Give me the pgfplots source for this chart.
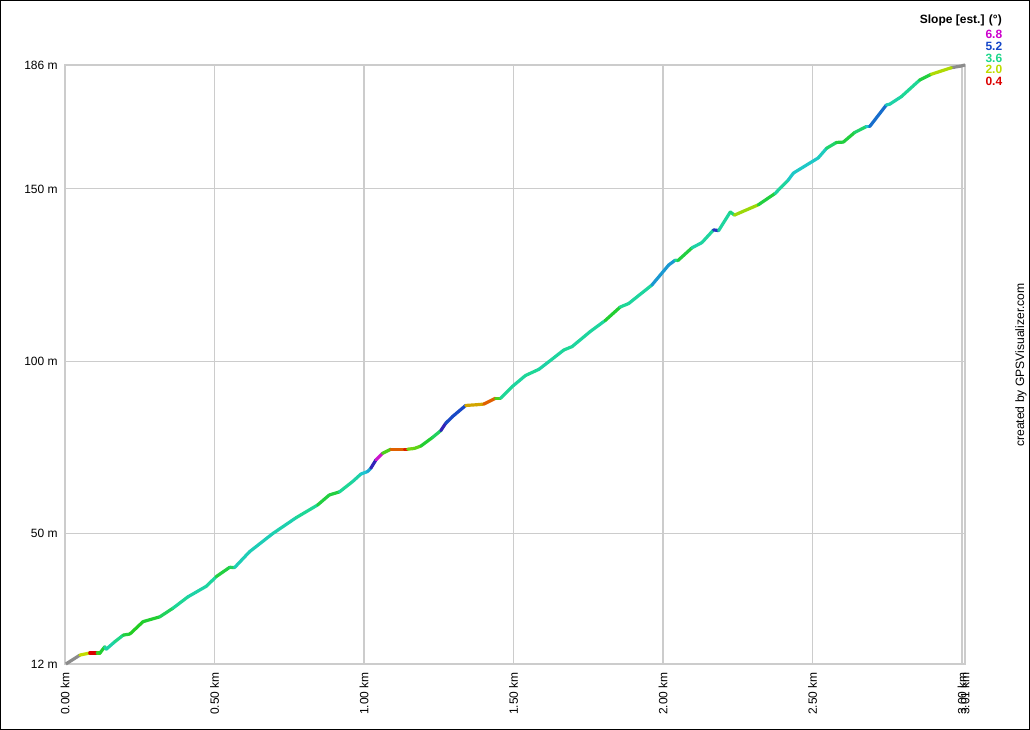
\documentclass[border=0pt]{standalone}
\usepackage{fontspec}
\setmainfont{Liberation Sans}
\usepackage{pgfplots}
\pgfplotsset{compat=1.18}

\definecolor{gridgray}{RGB}{204,204,204}
\definecolor{trackgray}{RGB}{140,140,140}
\definecolor{s68}{RGB}{204,0,204}
\definecolor{s52}{RGB}{20,70,200}
\definecolor{s36}{RGB}{30,215,140}
\definecolor{s20}{RGB}{190,220,0}
\definecolor{s04}{RGB}{220,0,0}

\pgfplotsset{
  colormap={slope}{
    rgb255=(220,0,0) rgb255=(225,110,0) rgb255=(195,220,0)
    rgb255=(35,205,35) rgb255=(30,215,150) rgb255=(30,195,215)
    rgb255=(20,80,200) rgb255=(60,20,180) rgb255=(204,20,204)
  }
}

\begin{document}
\begin{tikzpicture}[x=0.75pt,y=0.75pt]
\path[use as bounding box] (-65,-66) rectangle (965,664);
\draw[line width=1.1pt] (-64.3,-65.3) rectangle (964.3,663.3);

\begin{axis}[
  at={(0,0)}, anchor=south west,
  scale only axis,
  width=675pt, height=449.25pt,
  xmin=0, xmax=3.01,
  ymin=12, ymax=186,
  xtick={0,0.5,1,1.5,2,2.5,3,3.01},
  xticklabels={0.00 km,0.50 km,1.00 km,1.50 km,2.00 km,2.50 km,3.00 km,3.01 km},
  ytick={12,50,100,150,186},
  yticklabels={12 m,50 m,100 m,150 m,186 m},
  xticklabel style={rotate=90, anchor=east, font=\fontsize{9}{10}\selectfont},
  yticklabel style={font=\fontsize{9}{10}\selectfont},
  xticklabel shift=2.5pt,
  yticklabel shift=2pt,
  major tick length=0pt,
  xmajorgrids=true, ymajorgrids=true,
  grid style={gridgray, line width=0.8pt},
  axis line style={gridgray, line width=0.8pt},
  colormap name=slope,
  point meta min=0.4, point meta max=6.8,
  clip=false,
]

% gray start and end pieces (no slope estimate)
\addplot[trackgray, line width=2.4pt] coordinates {(0.003,12) (0.05,14.6)};
\addplot[trackgray, line width=2.4pt] coordinates {(2.964,185.2) (2.997,185.7) (3.01,186)};

% the profile, each segment coloured by its slope
\addplot[mesh, shader=flat corner, point meta=explicit, line width=2.4pt, line cap=round] coordinates {
(0.050,14.6) [2.0]
(0.083,15.2) [0.4]
(0.108,15.2) [2.7]
(0.117,15.2) [2.9]
(0.133,17.0) [3.7]
(0.138,16.3) [3.8]
(0.167,18.5) [3.5]
(0.195,20.4) [3.0]
(0.217,20.7) [2.8]
(0.261,24.3) [2.9]
(0.317,25.7) [3.2]
(0.361,28.2) [3.6]
(0.411,31.5) [3.8]
(0.473,34.6) [3.7]
(0.506,37.4) [3.0]
(0.551,40.1) [3.2]
(0.567,40.0) [4.0]
(0.617,44.6) [4.0]
(0.695,49.9) [3.9]
(0.773,54.5) [3.6]
(0.845,58.2) [3.0]
(0.884,61.1) [3.0]
(0.918,62.0) [3.6]
(0.962,65.0) [3.8]
(0.990,67.2) [4.3]
(1.012,67.9) [4.6]
(1.023,68.9) [5.8]
(1.040,71.3) [6.8]
(1.062,73.2) [2.6]
(1.090,74.4) [1.1]
(1.135,74.4) [0.6]
(1.146,74.4) [2.4]
(1.168,74.6) [2.5]
(1.190,75.3) [2.9]
(1.229,77.8) [3.2]
(1.257,79.8) [5.8]
(1.273,81.9) [5.3]
(1.295,83.8) [5.3]
(1.340,87.1) [1.6]
(1.375,87.3) [1.6]
(1.401,87.5) [1.1]
(1.440,89.2) [2.6]
(1.457,89.2) [3.6]
(1.496,92.6) [3.7]
(1.540,95.8) [3.6]
(1.585,97.6) [3.8]
(1.618,99.8) [3.7]
(1.668,103.2) [3.6]
(1.696,104.2) [3.7]
(1.757,108.6) [3.7]
(1.807,111.8) [2.9]
(1.857,115.7) [3.6]
(1.885,116.7) [3.7]
(1.963,122.1) [4.7]
(2.019,127.9) [4.7]
(2.041,129.3) [3.6]
(2.050,129.2) [3.0]
(2.097,132.9) [3.8]
(2.130,134.4) [3.7]
(2.169,138.1) [5.6]
(2.186,137.9) [3.7]
(2.225,143.3) [3.4]
(2.239,142.4) [2.2]
(2.319,145.4) [3.0]
(2.375,148.7) [3.7]
(2.419,152.6) [4.2]
(2.436,154.6) [4.2]
(2.519,159.0) [4.1]
(2.547,161.8) [3.3]
(2.580,163.5) [3.0]
(2.603,163.6) [3.0]
(2.641,166.4) [3.3]
(2.680,168.1) [4.3]
(2.691,168.1) [5.0]
(2.747,174.4) [4.0]
(2.758,174.6) [3.8]
(2.797,176.8) [3.6]
(2.858,181.6) [3.0]
(2.897,183.3) [2.1]
(2.964,185.2) [2.1]
};
\end{axis}

% slope legend
\begin{scope}[font=\fontsize{9}{10}\selectfont\bfseries]
\node[anchor=base east, inner sep=0pt] at (937,640) {Slope [est.] (°)};
\node[anchor=base east, inner sep=0pt, text=s68] at (937.5,625) {6.8};
\node[anchor=base east, inner sep=0pt, text=s52] at (937.5,613) {5.2};
\node[anchor=base east, inner sep=0pt, text=s36] at (937.5,601.5) {3.6};
\node[anchor=base east, inner sep=0pt, text=s20] at (937.5,590) {2.0};
\node[anchor=base east, inner sep=0pt, text=s04] at (937.5,578) {0.4};
\end{scope}

\node[rotate=90, inner sep=0pt, font=\fontsize{9.1}{10}\selectfont] at (956,299) {created by GPSVisualizer.com};
\end{tikzpicture}
\end{document}
